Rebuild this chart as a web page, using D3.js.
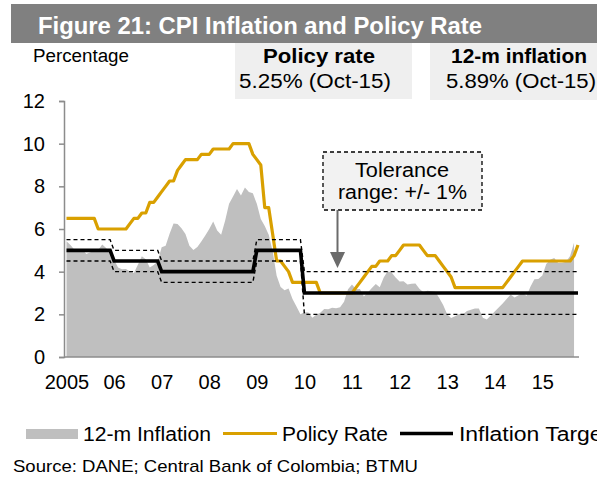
<!DOCTYPE html>
<html>
<head>
<meta charset="utf-8">
<script src="https://cdn.jsdelivr.net/npm/d3@7"></script>
<style>
  body { margin: 0; background: #fff; }
  svg { display: block; font-family: "Liberation Sans", Arial, sans-serif; }
</style>
</head>
<body>
<svg id="chart"></svg>
<script>
const width = 597;
const height = 479;

// monthly, Jan 2005 .. Sep 2015
const inflation = [
  5.43, 5.25, 5.03, 5.01, 5.04, 4.83, 4.91, 4.96, 5.02, 5.27, 5.11, 4.85,
  4.56, 4.19, 4.11, 4.12, 4.01, 3.94, 4.32, 4.72, 4.58, 4.20, 4.31, 4.48,
  5.15, 5.22, 5.78, 6.26, 6.23, 6.03, 5.77, 5.22, 5.01, 5.16, 5.41, 5.69,
  6.00, 6.35, 5.93, 5.73, 6.39, 7.18, 7.52, 7.87, 7.57, 7.94, 7.73, 7.67,
  7.18, 6.47, 6.14, 5.73, 4.95, 3.81, 3.28, 3.13, 3.21, 2.72, 2.37, 2.00,
  2.10, 2.09, 1.84, 1.98, 2.07, 2.25, 2.24, 2.31, 2.28, 2.33, 2.59, 3.17,
  3.40, 3.17, 3.19, 2.84, 3.02, 3.23, 3.42, 3.27, 3.73, 4.02, 3.96, 3.73,
  3.54, 3.55, 3.40, 3.43, 3.44, 3.20, 3.03, 3.11, 3.08, 3.06, 2.77, 2.44,
  2.00, 1.83, 1.91, 2.02, 2.00, 2.16, 2.22, 2.27, 2.27, 1.84, 1.76, 1.94,
  2.13, 2.32, 2.51, 2.72, 2.93, 2.79, 2.89, 3.02, 2.86, 3.29, 3.65, 3.66,
  3.82, 4.36, 4.56, 4.64, 4.41, 4.42, 4.46, 4.74, 5.35
];

// monthly, Jan 2005 .. Oct 2015
const policyRate = [
  6.5, 6.5, 6.5, 6.5, 6.5, 6.5, 6.5, 6.5, 6.0, 6.0, 6.0, 6.0,
  6.0, 6.0, 6.0, 6.0, 6.25, 6.5, 6.5, 6.75, 6.75, 7.25, 7.25, 7.5,
  7.75, 8.0, 8.25, 8.25, 8.75, 9.0, 9.25, 9.25, 9.25, 9.25, 9.5, 9.5,
  9.5, 9.75, 9.75, 9.75, 9.75, 9.75, 10, 10, 10, 10, 10, 9.5,
  9.25, 9.0, 7.0, 7.0, 5.75, 4.5, 4.5, 4.25, 4.0, 3.5, 3.5, 3.5,
  3.5, 3.5, 3.5, 3.5, 3.0, 3.0, 3.0, 3.0, 3.0, 3.0, 3.0, 3.0,
  3.0, 3.25, 3.5, 3.75, 4.0, 4.25, 4.25, 4.5, 4.5, 4.5, 4.75, 4.75,
  5.0, 5.25, 5.25, 5.25, 5.25, 5.25, 5.0, 4.75, 4.75, 4.75, 4.5, 4.25,
  4.0, 3.75, 3.25, 3.25, 3.25, 3.25, 3.25, 3.25, 3.25, 3.25, 3.25, 3.25,
  3.25, 3.25, 3.25, 3.5, 3.75, 4.0, 4.25, 4.5, 4.5, 4.5, 4.5, 4.5,
  4.5, 4.5, 4.5, 4.5, 4.5, 4.5, 4.5, 4.5, 4.75, 5.25
];

// yearly inflation target and tolerance, 2005 .. 2015
const targetMid  = [5.0, 4.5, 4.0, 4.0, 5.0, 3.0, 3.0, 3.0, 3.0, 3.0, 3.0];
const targetBand = [0.5, 0.5, 0.5, 0.5, 0.5, 1.0, 1.0, 1.0, 1.0, 1.0, 1.0];

const yearLabels = ["2005", "06", "07", "08", "09", "10", "11", "12", "13", "14", "15"];
const yTicks = [0, 2, 4, 6, 8, 10, 12];

const gold = "#d9a000";
const areaGray = "#bfbfbf";
const font = '"Liberation Sans", Arial, sans-serif';

const svg = d3.select("#chart").attr("width", width).attr("height", height);

const x = d3.scaleLinear().domain([0, 129]).range([66.5, 578]);
const y = d3.scaleLinear().domain([0, 12]).range([357, 101]);

function addText(g, str, px, py, size, opts) {
  opts = opts || {};
  const t = g.append("text")
    .attr("x", px).attr("y", py)
    .attr("font-size", size)
    .attr("font-weight", opts.bold ? "bold" : "normal")
    .attr("text-anchor", opts.anchor || "start")
    .attr("fill", opts.fill || "#000")
    .text(str);
  if (opts.len) t.attr("textLength", opts.len).attr("lengthAdjust", "spacingAndGlyphs");
  return t;
}

// title bar
svg.append("rect").attr("x", 11).attr("y", 4).attr("width", width - 11).attr("height", 39).attr("fill", "#808080");
addText(svg, "Figure 21: CPI Inflation and Policy Rate", 38, 34, 23, {bold: true, fill: "#fff", len: 444});

addText(svg, "Percentage", 33, 62, 18, {len: 96});

// info boxes
svg.append("rect").attr("x", 235).attr("y", 43).attr("width", 177).attr("height", 56).attr("fill", "#efefef");
svg.append("rect").attr("x", 430).attr("y", 43).attr("width", 167).attr("height", 57).attr("fill", "#efefef");
addText(svg, "Policy rate", 319, 63, 20, {bold: true, anchor: "middle", len: 112});
addText(svg, "5.25% (Oct-15)", 315, 88, 20, {anchor: "middle", len: 152});
addText(svg, "12-m inflation", 519, 63, 20, {bold: true, anchor: "middle", len: 136});
addText(svg, "5.89% (Oct-15)", 521, 88, 20, {anchor: "middle", len: 150});

// inflation area
const infl = inflation.map((v, i) => ({i: i, v: v}));
svg.append("path")
  .datum(infl)
  .attr("fill", areaGray)
  .attr("d", d3.area().x(d => x(d.i)).y0(y(0)).y1(d => y(d.v)));

// target series, monthly steps
const target = policyRate.map((v, i) => ({i: i, mid: targetMid[Math.floor(i / 12)], band: targetBand[Math.floor(i / 12)]}));

// policy rate
svg.append("path")
  .datum(policyRate.map((v, i) => ({i: i, v: v})))
  .attr("fill", "none")
  .attr("stroke", gold)
  .attr("stroke-width", 3.2)
  .attr("stroke-linejoin", "round")
  .attr("d", d3.line().x(d => x(d.i)).y(d => y(d.v)));

// tolerance bands
[1, -1].forEach(function (s) {
  svg.append("path")
    .datum(target)
    .attr("fill", "none")
    .attr("stroke", "#000")
    .attr("stroke-width", 1.4)
    .attr("stroke-dasharray", "4,3")
    .attr("d", d3.line().x(d => x(d.i)).y(d => y(d.mid + s * d.band)));
});

// target line
svg.append("path")
  .datum(target)
  .attr("fill", "none")
  .attr("stroke", "#000")
  .attr("stroke-width", 3.6)
  .attr("d", d3.line().x(d => x(d.i)).y(d => y(d.mid)));

// axes
const yAxis = svg.append("g")
  .attr("transform", "translate(64,0)")
  .call(d3.axisLeft(y).tickValues(yTicks).tickSize(5).tickPadding(14));
yAxis.select(".domain").attr("stroke", "#8c8c8c").attr("stroke-width", 1.5);
yAxis.selectAll(".tick line").attr("stroke", "#8c8c8c").attr("stroke-width", 1.5);
yAxis.selectAll("text").attr("font-size", 20).attr("font-family", font).attr("fill", "#000");

svg.append("line")
  .attr("x1", 64).attr("x2", 579)
  .attr("y1", y(0)).attr("y2", y(0))
  .attr("stroke", "#8c8c8c").attr("stroke-width", 1.5);

const xAxis = svg.append("g")
  .attr("transform", "translate(0," + y(0) + ")")
  .call(d3.axisBottom(x)
    .tickValues(yearLabels.map((d, k) => k * 12))
    .tickFormat((d, k) => yearLabels[k])
    .tickSize(0).tickPadding(18));
xAxis.select(".domain").remove();
xAxis.selectAll("text").attr("font-size", 20).attr("font-family", font).attr("fill", "#000");

// tolerance callout
svg.append("rect")
  .attr("x", 323).attr("y", 152).attr("width", 159).attr("height", 58)
  .attr("fill", "#f2f2f2").attr("stroke", "#000").attr("stroke-width", 1.3)
  .attr("stroke-dasharray", "4,3");
addText(svg, "Tolerance", 402, 177, 20, {anchor: "middle", len: 94});
addText(svg, "range: +/- 1%", 402.5, 199, 20, {anchor: "middle", len: 129});
svg.append("line")
  .attr("x1", 337.5).attr("x2", 337.5).attr("y1", 210).attr("y2", 254)
  .attr("stroke", "#6b6b6b").attr("stroke-width", 2);
svg.append("path")
  .attr("d", "M330,252 L345,252 L337.5,268 Z")
  .attr("fill", "#6b6b6b");

// legend
const lg = svg.append("g");
lg.append("rect").attr("x", 26).attr("y", 429).attr("width", 52).attr("height", 10).attr("fill", areaGray);
addText(lg, "12-m Inflation", 83, 441, 20, {len: 128});
lg.append("line").attr("x1", 223).attr("x2", 277).attr("y1", 433.5).attr("y2", 433.5)
  .attr("stroke", gold).attr("stroke-width", 3.2);
addText(lg, "Policy Rate", 282, 441, 20, {len: 106});
lg.append("line").attr("x1", 400).attr("x2", 453).attr("y1", 433.5).attr("y2", 433.5)
  .attr("stroke", "#000").attr("stroke-width", 3.6);
addText(lg, "Inflation Target", 459, 441, 20, {len: 150});

addText(svg, "Source: DANE; Central Bank of Colombia; BTMU", 13, 472, 17, {len: 405});
</script>
</body>
</html>
